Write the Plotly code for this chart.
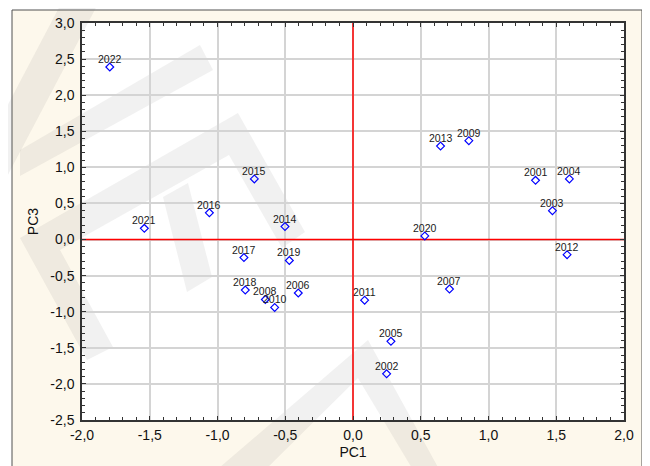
import plotly.graph_objects as go

# ---- data ----
years = ["2022", "2021", "2016", "2015", "2014", "2017", "2019", "2018", "2008", "2010",
         "2006", "2011", "2005", "2002", "2020", "2007", "2012", "2013", "2009", "2001",
         "2004", "2003"]
pc1 = [-1.795, -1.54, -1.06, -0.728, -0.502, -0.805, -0.47, -0.795, -0.647, -0.578,
       -0.404, 0.086, 0.28, 0.248, 0.53, 0.712, 1.58, 0.646, 0.855, 1.347,
       1.597, 1.472]
pc3 = [2.39, 0.155, 0.37, 0.84, 0.18, -0.25, -0.29, -0.70, -0.83, -0.94,
       -0.74, -0.84, -1.41, -1.86, 0.05, -0.686, -0.21, 1.295, 1.37, 0.82,
       0.84, 0.40]

x_range = [-2.0, 2.0]
y_range = [-2.5, 3.0]
x_ticks = [-2.0, -1.5, -1.0, -0.5, 0.0, 0.5, 1.0, 1.5, 2.0]
x_ticktext = ["-2,0", "-1,5", "-1,0", "-0,5", "0,0", "0,5", "1,0", "1,5", "2,0"]
y_ticks = [-2.5, -2.0, -1.5, -1.0, -0.5, 0.0, 0.5, 1.0, 1.5, 2.0, 2.5, 3.0]
y_ticktext = ["-2,5", "-2,0", "-1,5", "-1,0", "-0,5", "0,0", "0,5", "1,0", "1,5", "2,0", "2,5", "3,0"]

# ---- layout geometry (pixels; page body has an 8px offset) ----
OFF = 8
W, H = 650, 466
PX0, PX1, PY0, PY1 = 82, 624, 23, 420   # plot area in screen pixels
L, T = PX0 - OFF, PY0 - OFF
R, B = W - (PX1 - OFF), H - (PY1 - OFF)
PW, PH = PX1 - PX0, PY1 - PY0


def px2paper(px, py):
    return (px - PX0) / PW, (PY1 - py) / PH


def poly(points):
    parts = []
    for i, (a, b) in enumerate(points):
        x, y = px2paper(a, b)
        parts.append(("M" if i == 0 else "L") + f"{x:.4f},{y:.4f}")
    return " ".join(parts) + " Z"


FONT = "Arial, Liberation Sans, sans-serif"
wm_fill = "rgba(120,120,120,0.10)"
shapes = []
# outer frame
fx0, fy0 = px2paper(12, 10)
fx1, fy1 = px2paper(642, 490)
shapes.append(dict(type="rect", xref="paper", yref="paper", x0=fx0, y0=fy1, x1=fx1, y1=fy0,
                   fillcolor="#fdf8ec", line=dict(color="#505050", width=1), layer="below"))
# plot area white background
shapes.append(dict(type="rect", xref="paper", yref="paper", x0=0, y0=0, x1=1, y1=1,
                   fillcolor="white", line=dict(width=0), layer="below"))
# watermark bands
wm_polys = [
    [(63, 0), (100, 0), (0, 190), (-37, 190)],
    [(20, 150), (200, 45), (213, 70), (20, 176)],
    [(87, 360), (20, 238), (238, 113), (305, 232), (282, 248), (229, 155), (60, 250), (113, 347)],
    [(163, 197), (188, 183), (212, 277), (187, 292)],
    [(205, 480), (368, 340), (445, 480), (419, 480), (358, 378), (255, 480)],
]
for p in wm_polys:
    shapes.append(dict(type="path", xref="paper", yref="paper", path=poly(p),
                       fillcolor=wm_fill, line=dict(width=0), layer="below"))

fig = go.Figure()
# red reference lines through the origin
fig.add_trace(go.Scatter(x=[0, 0], y=y_range, mode="lines", line=dict(color="#ff0000", width=1.5),
                         showlegend=False, hoverinfo="skip"))
fig.add_trace(go.Scatter(x=x_range, y=[0, 0], mode="lines", line=dict(color="#ff0000", width=1.5),
                         showlegend=False, hoverinfo="skip"))
fig.add_trace(go.Scatter(
    x=pc1, y=pc3, mode="markers",
    marker=dict(symbol="diamond-open", size=6, color="#0000ff", line=dict(width=1.2, color="#0000ff")),
    showlegend=False, cliponaxis=False,
))

annotations = [
    dict(x=xv, y=yv, text=t, showarrow=False, yshift=8, xref="x", yref="y",
         font=dict(family=FONT, size=10.5, color="#1a1a1a"))
    for xv, yv, t in zip(pc1, pc3, years)
]

axis_common = dict(
    showgrid=True, gridcolor="#d4d4d4", gridwidth=1.5,
    zeroline=False,
    showline=True, linecolor="#333333", linewidth=1.5, mirror="allticks",
    ticks="inside", ticklen=4, tickcolor="#333333",
    tickfont=dict(family=FONT, size=14, color="#111111"),
    automargin=False,
)

fig.update_xaxes(
    range=x_range, tickvals=x_ticks, ticktext=x_ticktext,
    minor=dict(ticks="inside", dtick=0.1, ticklen=3, tickcolor="#333333", showgrid=False),
    title=dict(text="PC1", font=dict(family=FONT, size=14, color="#111111"), standoff=6),
    ticklabelstandoff=1,
    **axis_common,
)
fig.update_yaxes(
    range=y_range, tickvals=y_ticks, ticktext=y_ticktext,
    minor=dict(ticks="inside", dtick=0.1, ticklen=3, tickcolor="#333333", showgrid=False),
    title=dict(text="PC3", font=dict(family=FONT, size=14, color="#111111"), standoff=8),
    ticklabelstandoff=3,
    **axis_common,
)

fig.update_layout(
    width=W, height=H,
    margin=dict(l=L, r=R, t=T, b=B, autoexpand=False),
    paper_bgcolor="white", plot_bgcolor="rgba(0,0,0,0)",
    shapes=shapes, annotations=annotations,
)

fig.write_html("out.html")
